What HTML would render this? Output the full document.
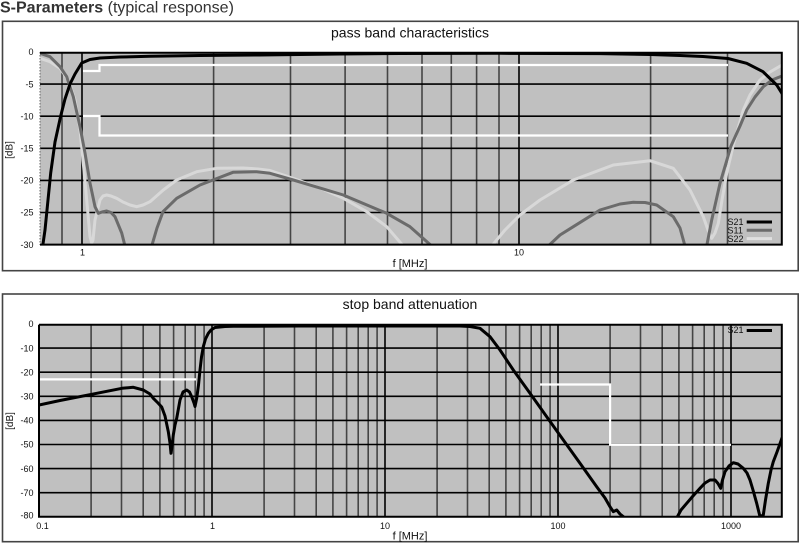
<!DOCTYPE html>
<html>
<head>
<meta charset="utf-8">
<style>
html,body{margin:0;padding:0;background:#fff;}
body{width:800px;height:545px;overflow:hidden;}
svg{display:block;}
text{font-family:"Liberation Sans",Arial,sans-serif;}
</style>
</head>
<body>
<svg width="800" height="545" viewBox="0 0 800 545" xmlns="http://www.w3.org/2000/svg">
<defs>
<clipPath id="c1"><rect x="40" y="52" width="742" height="193"/></clipPath>
<clipPath id="c2"><rect x="39" y="324" width="743" height="193"/></clipPath>
</defs>
<rect width="800" height="545" fill="#fff"/>
<text x="0" y="12.5" font-size="16" fill="#333"><tspan font-weight="bold">S-Parameters</tspan> (typical response)</text>

<!-- ============ TOP CHART ============ -->
<rect x="2.5" y="21.3" width="795.7" height="249.4" fill="none" stroke="#444" stroke-width="1.6"/>
<text x="410" y="37.5" font-size="14" text-anchor="middle" fill="#111">pass band characteristics</text>
<rect x="40" y="52" width="742" height="192.6" fill="#c0c0c0"/>
<g clip-path="url(#c1)">
<g stroke="#454545" stroke-width="1.6" fill="none">
<line x1="62" y1="52" x2="62" y2="245"/>
<line x1="213.6" y1="52" x2="213.6" y2="245"/>
<line x1="290.5" y1="52" x2="290.5" y2="245"/>
<line x1="345.1" y1="52" x2="345.1" y2="245"/>
<line x1="387.5" y1="52" x2="387.5" y2="245"/>
<line x1="422" y1="52" x2="422" y2="245"/>
<line x1="451.3" y1="52" x2="451.3" y2="245"/>
<line x1="476.6" y1="52" x2="476.6" y2="245"/>
<line x1="499" y1="52" x2="499" y2="245"/>
<line x1="650.6" y1="52" x2="650.6" y2="245"/>
<line x1="727.5" y1="52" x2="727.5" y2="245"/>
</g>
<g stroke="#000" stroke-width="1.6">
<line x1="82" y1="52" x2="82" y2="245"/>
<line x1="519" y1="52" x2="519" y2="245"/>
<line x1="40" y1="84.1" x2="782" y2="84.1"/>
<line x1="40" y1="116.2" x2="782" y2="116.2"/>
<line x1="40" y1="148.3" x2="782" y2="148.3"/>
<line x1="40" y1="180.4" x2="782" y2="180.4"/>
<line x1="40" y1="212.5" x2="782" y2="212.5"/>
</g>
<!-- limit lines -->
<g stroke="#fff" stroke-width="2.2" fill="none">
<polyline points="83,71 99.5,71 99.5,65 728,65"/>
<polyline points="83,116 99.5,116 99.5,135.5 728,135.5"/>
</g>
<g fill="none" stroke-width="3" stroke-linejoin="round" stroke-linecap="round">
<!-- S22 -->
<g stroke="#d8d8d8">
<polyline points="40,58.3 50,61.7 60,68.3 68.3,80 75,100 80,130 83.3,163.3 86.7,200 90,236.7 91.7,243 93,240 95,220 100,200 103,196 106.7,195 111,196 116.7,198.3 123,202 130,205 136.7,206.7 143,205 150,201.7 163.3,190 176.7,180 196.7,171.7 216.7,168.3 243.3,168 258,169 270,170.5 293,178.3 320,188 343.3,198.3 366.7,211.7 386.7,226.7 403.3,246"/>
<polyline points="491.7,246 505,230 520,215 540,200 573.3,180 613.3,165 650,160.7 673.3,168.3 690,190 703.3,216.7 708,230 711.7,238.3 715,233 718.3,223.3 722,200 726.7,173.3 733.3,145 743.3,110 750,95 760,80 770,72 782,65"/>
</g>
<!-- S11 -->
<g stroke="#6b6b6b">
<polyline points="40,53.3 50,56.7 60,66.7 66.7,76.7 73.3,96.7 80,126.7 85,153 90,183 95,206.7 98.3,213.3 102,212 106.7,211 111,212.5 115,216.7 121.7,233 125,246"/>
<polyline points="151.7,246 157,228 163,211.7 176.7,198.3 200,185 213,180 233,172.3 256.7,171.7 270,173.3 293.3,180 343.3,195 386.7,213.3 410,226.7 431.7,246"/>
<polyline points="548.3,246 560,235 573.3,226.7 600,210 620,204 633.3,202.3 645,202.5 656.7,205 673.3,216.7 680,228 685,246"/>
<polyline points="706.7,246 711.7,220 720,183.3 731,146 740,126 746.7,110 755,97 763.3,86.7 772,80 782,76"/>
</g>
<!-- S21 -->
<polyline stroke="#000" points="42.7,246 45,230 48,200 50.7,173 55,142 60.7,116 65,99 70,84 75,74 81.7,63 90,59.5 100,58 120,57 150,56.3 200,55.5 260,55 340,54 400,53.5 500,53.3 600,53.6 650,54.5 680,55.5 703,56.5 728,58.5 746.7,63.3 763,71.7 776.7,85 782,93.5"/>
</g>
</g>
<line x1="40" y1="52" x2="40" y2="245" stroke="#666" stroke-width="1" stroke-dasharray="1.5,1.5"/>
<polyline points="40,52.8 781.8,52.8 781.8,244.6 40,244.6" fill="none" stroke="#000" stroke-width="2"/>
<!-- legend top -->
<g font-size="9" fill="#111">
<text x="727.5" y="225.2">S21</text>
<text x="727.5" y="233.5">S11</text>
<text x="727.5" y="241.8">S22</text>
</g>
<g stroke-width="3">
<line x1="746.7" y1="222" x2="772" y2="222" stroke="#000"/>
<line x1="746.7" y1="230.3" x2="772" y2="230.3" stroke="#6b6b6b"/>
<line x1="746.7" y1="238.6" x2="772" y2="238.6" stroke="#e0e0e0"/>
</g>
<!-- top y labels -->
<g font-size="9" fill="#111" text-anchor="end">
<text x="33.5" y="55.2">0</text>
<text x="33.5" y="87.3">-5</text>
<text x="33.5" y="119.4">-10</text>
<text x="33.5" y="151.5">-15</text>
<text x="33.5" y="183.6">-20</text>
<text x="33.5" y="215.7">-25</text>
<text x="33.5" y="247.8">-30</text>
</g>
<g font-size="9" fill="#111" text-anchor="middle">
<text x="82.5" y="255.5">1</text>
<text x="519" y="255.5">10</text>
</g>
<text x="410" y="267" font-size="11" text-anchor="middle" fill="#111">f [MHz]</text>
<text transform="translate(12.5,150) rotate(-90)" font-size="10" text-anchor="middle" fill="#111">[dB]</text>

<!-- ============ BOTTOM CHART ============ -->
<rect x="2.5" y="294" width="795.7" height="247.7" fill="none" stroke="#444" stroke-width="1.6"/>
<text x="410" y="309" font-size="14" text-anchor="middle" fill="#111">stop band attenuation</text>
<rect x="39" y="324" width="743" height="192.8" fill="#c0c0c0"/>
<g clip-path="url(#c2)">
<g stroke="#454545" stroke-width="1.6">
<line x1="91.1" y1="324" x2="91.1" y2="517"/><line x1="121.5" y1="324" x2="121.5" y2="517"/><line x1="143.2" y1="324" x2="143.2" y2="517"/><line x1="159.9" y1="324" x2="159.9" y2="517"/><line x1="173.6" y1="324" x2="173.6" y2="517"/><line x1="185.2" y1="324" x2="185.2" y2="517"/><line x1="195.2" y1="324" x2="195.2" y2="517"/><line x1="204.1" y1="324" x2="204.1" y2="517"/>
<line x1="264.1" y1="324" x2="264.1" y2="517"/><line x1="294.5" y1="324" x2="294.5" y2="517"/><line x1="316.2" y1="324" x2="316.2" y2="517"/><line x1="332.9" y1="324" x2="332.9" y2="517"/><line x1="346.6" y1="324" x2="346.6" y2="517"/><line x1="358.2" y1="324" x2="358.2" y2="517"/><line x1="368.2" y1="324" x2="368.2" y2="517"/><line x1="377.1" y1="324" x2="377.1" y2="517"/>
<line x1="437.1" y1="324" x2="437.1" y2="517"/><line x1="467.5" y1="324" x2="467.5" y2="517"/><line x1="489.2" y1="324" x2="489.2" y2="517"/><line x1="505.9" y1="324" x2="505.9" y2="517"/><line x1="519.6" y1="324" x2="519.6" y2="517"/><line x1="531.2" y1="324" x2="531.2" y2="517"/><line x1="541.2" y1="324" x2="541.2" y2="517"/><line x1="550.1" y1="324" x2="550.1" y2="517"/>
<line x1="610.1" y1="324" x2="610.1" y2="517"/><line x1="640.5" y1="324" x2="640.5" y2="517"/><line x1="662.2" y1="324" x2="662.2" y2="517"/><line x1="678.9" y1="324" x2="678.9" y2="517"/><line x1="692.6" y1="324" x2="692.6" y2="517"/><line x1="704.2" y1="324" x2="704.2" y2="517"/><line x1="714.2" y1="324" x2="714.2" y2="517"/><line x1="723.1" y1="324" x2="723.1" y2="517"/>
</g>
<g stroke="#000" stroke-width="1.6">
<line x1="212" y1="324" x2="212" y2="517"/>
<line x1="385" y1="324" x2="385" y2="517"/>
<line x1="558" y1="324" x2="558" y2="517"/>
<line x1="731" y1="324" x2="731" y2="517"/>
<line x1="39" y1="348.1" x2="782" y2="348.1"/>
<line x1="39" y1="372.2" x2="782" y2="372.2"/>
<line x1="39" y1="396.3" x2="782" y2="396.3"/>
<line x1="39" y1="420.4" x2="782" y2="420.4"/>
<line x1="39" y1="444.5" x2="782" y2="444.5"/>
<line x1="39" y1="468.6" x2="782" y2="468.6"/>
<line x1="39" y1="492.7" x2="782" y2="492.7"/>
</g>
<g stroke="#fff" stroke-width="2.2" fill="none">
<polyline points="39,379.4 196,379.4"/>
<polyline points="540,384.5 610.1,384.5 610.1,444.8 731,444.8"/>
</g>
<g fill="none" stroke="#000" stroke-width="3" stroke-linejoin="round" stroke-linecap="round">
<polyline points="39,405 60,400.5 91.7,394.3 122,388.3 133.3,387.3 143.3,390 150,394 153.3,398.3 158,403 161.7,407 165,416 168.3,431.7 170,443 171,453.3 172.2,445 173.3,435 175,425 176.7,418.3 180,400 183,392 186.7,390 189.5,392 191.7,396.7 194,403 195,406.5 196.7,398.3 198.5,385 200,370 201.5,357 203.3,346.7 205.5,339 208.3,333.3 211,330 215,327.5 225,326.5 233.3,326.3 300,326 400,326 460,326 470,326.5 480,328.3 490,336.7 500,350 513.3,370 530,393.3 546.7,416.7 563.3,440 580,463.3 596.7,486.7 605,498 610,506.7 613.3,511.7 616.7,510 620,514 623.3,516.7 625,518"/>
<polyline points="676.7,518 681,510 686.7,503.3 693,496 700,488.3 705,483 710,480 715,480 718,483.5 720.7,488.3 722.5,480 725,471.7 729,466 733.3,462.7 738,464 743.3,468.3 747,473 750,480 753,490 756.7,503.3 760,516.7 763.3,515 765.5,500 768.3,483.3 771,470 773.3,461.7 777,452 782,438"/>
</g>
</g>
<polyline points="39,324.8 781.8,324.8 781.8,516.8 39,516.8 39,324.8" fill="none" stroke="#000" stroke-width="2"/>
<text x="727.5" y="333.2" font-size="9" fill="#111">S21</text>
<line x1="746.7" y1="330.5" x2="772" y2="330.5" stroke="#000" stroke-width="3"/>
<g font-size="9" fill="#111" text-anchor="end">
<text x="33.5" y="327.2">0</text>
<text x="33.5" y="351.3">-10</text>
<text x="33.5" y="375.4">-20</text>
<text x="33.5" y="399.5">-30</text>
<text x="33.5" y="423.6">-40</text>
<text x="33.5" y="447.7">-50</text>
<text x="33.5" y="471.8">-60</text>
<text x="33.5" y="495.9">-70</text>
<text x="33.5" y="518.5">-80</text>
</g>
<g font-size="9" fill="#111" text-anchor="middle">
<text x="42.5" y="529">0.1</text>
<text x="212.5" y="529">1</text>
<text x="385" y="529">10</text>
<text x="558" y="529">100</text>
<text x="731" y="529">1000</text>
</g>
<text x="410" y="539.5" font-size="11" text-anchor="middle" fill="#111">f [MHz]</text>
<text transform="translate(13,421) rotate(-90)" font-size="10" text-anchor="middle" fill="#111">[dB]</text>
</svg>
</body>
</html>
